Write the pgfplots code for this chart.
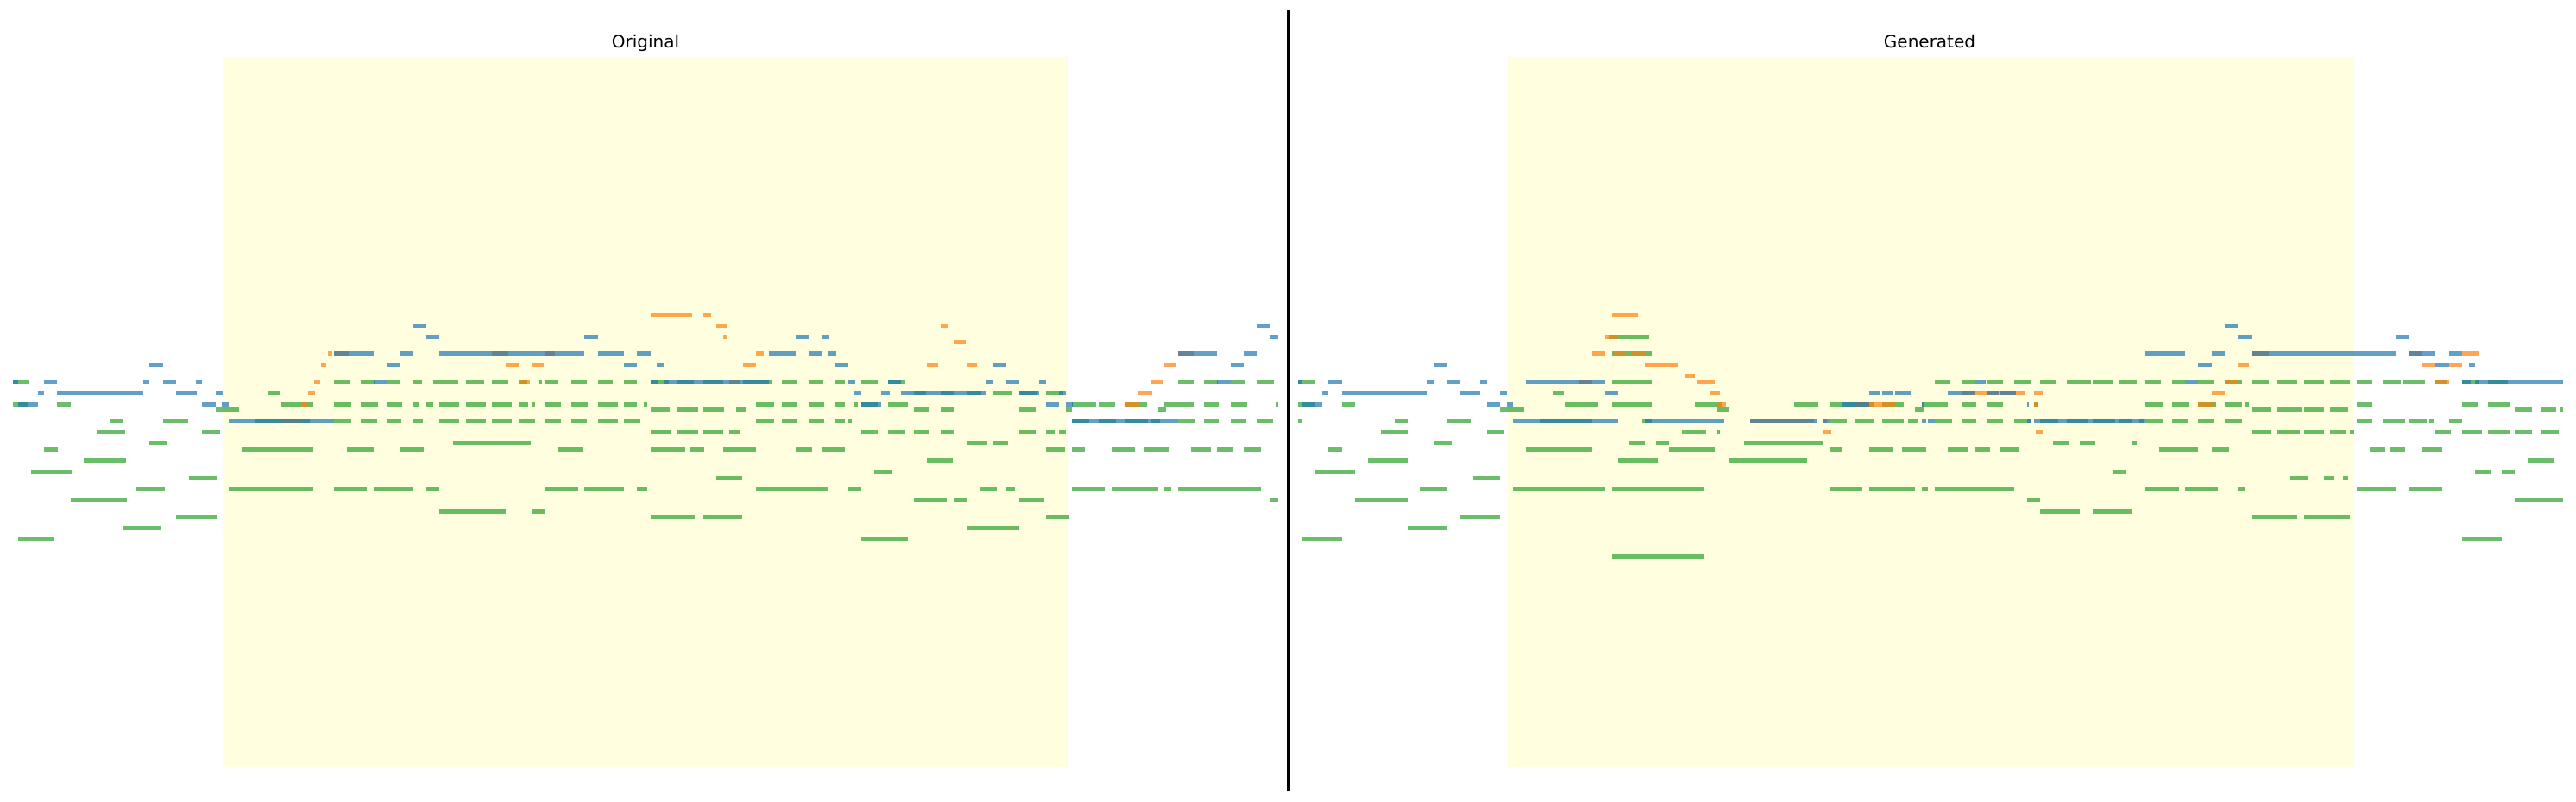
\documentclass[border=0pt]{standalone}
\usepackage{fontspec}
\setmainfont{DejaVu Sans}
\usepackage{pgfplots}
\pgfplotsset{compat=1.18}
\usepackage{pgfplotstable}
\definecolor{tblue}{HTML}{1F77B4}
\definecolor{torange}{HTML}{FF7F0E}
\definecolor{tgreen}{HTML}{2CA02C}
\definecolor{lyellow}{HTML}{FFFFE0}

% columns: s = start, e = end (time, px units), p = pitch
\pgfplotstableread[row sep=\\]{s e p\\
15 34 69\\ 387 405 69\\ 418 435 69\\ 448 463 69\\ 479 489 69\\ 502 531 69\\ 540 561 69\\ 570 589 69\\ 601 611 69\\ 624 628 69\\ 632 647 69\\ 662 680 69\\ 693 710 69\\ 723 738 69\\ 754 775 69\\ 784 804 69\\ 815 838 69\\ 861 894 69\\ 906 924 69\\ 937 954 69\\ 968 979 69\\ 998 1017 69\\ 1029 1049 69\\ 1365 1383 69\\ 1395 1411 69\\ 1426 1443 69\\ 1456 1476 69\\
311 324 67\\ 1059 1073 67\\ 1090 1106 67\\ 1120 1137 67\\ 1151 1173 67\\ 1181 1202 67\\ 1212 1232 67\\
15 33 65\\ 66 82 65\\ 326 363 65\\ 387 407 65\\ 418 438 65\\ 448 466 65\\ 479 486 65\\ 494 502 65\\ 509 532 65\\ 540 563 65\\ 570 593 65\\ 601 612 65\\ 616 620 65\\ 632 650 65\\ 662 681 65\\ 693 716 65\\ 723 738 65\\ 746 750 65\\ 876 897 65\\ 906 924 65\\ 937 955 65\\ 968 979 65\\ 990 994 65\\ 998 1017 65\\ 1029 1052 65\\ 1242 1270 65\\ 1273 1292 65\\ 1304 1329 65\\ 1349 1383 65\\ 1395 1413 65\\ 1426 1445 65\\ 1479 1481 65\\
250 277 64\\ 754 776 64\\ 784 809 64\\ 815 839 64\\ 853 864 64\\ 1059 1076 64\\ 1090 1106 64\\ 1181 1200 64\\ 1235 1242 64\\ 1342 1351 64\\
128 143 62\\ 189 218 62\\ 296 359 62\\ 387 407 62\\ 418 437 62\\ 448 465 62\\ 479 490 62\\ 509 532 62\\ 540 563 62\\ 570 593 62\\ 601 620 62\\ 632 650 62\\ 662 680 62\\ 693 716 62\\ 723 742 62\\ 876 897 62\\ 906 924 62\\ 937 955 62\\ 968 979 62\\ 983 987 62\\ 1242 1262 62\\ 1273 1293 62\\ 1304 1330 62\\ 1334 1344 62\\ 1365 1385 62\\ 1395 1413 62\\ 1426 1444 62\\ 1456 1475 62\\
112 145 60\\ 234 255 60\\ 754 778 60\\ 784 809 60\\ 815 838 60\\ 845 857 60\\ 998 1017 60\\ 1029 1049 60\\ 1059 1077 60\\ 1090 1106 60\\ 1181 1201 60\\ 1212 1223 60\\ 1227 1235 60\\
173 193 58\\ 525 615 58\\ 1120 1144 58\\ 1151 1168 58\\
51 67 57\\ 280 363 57\\ 402 433 57\\ 464 491 57\\ 647 676 57\\ 754 794 57\\ 800 816 57\\ 838 876 57\\ 922 941 57\\ 952 979 57\\ 1212 1234 57\\ 1242 1257 57\\ 1288 1315 57\\ 1326 1355 57\\ 1380 1403 57\\ 1410 1429 57\\ 1441 1461 57\\
97 146 55\\ 1074 1104 55\\
36 83 53\\ 1013 1034 53\\
219 252 52\\ 830 860 52\\
158 191 50\\ 265 363 50\\ 387 425 50\\ 433 479 50\\ 494 509 50\\ 632 670 50\\ 677 723 50\\ 738 750 50\\ 876 960 50\\ 983 998 50\\ 1136 1155 50\\ 1166 1176 50\\ 1242 1281 50\\ 1288 1342 50\\ 1349 1357 50\\ 1365 1461 50\\
82 147 48\\ 1059 1097 48\\ 1105 1120 48\\ 1181 1210 48\\ 1472 1481 48\\
509 586 46\\ 616 632 46\\
204 251 45\\ 754 805 45\\ 815 860 45\\ 1212 1239 45\\
143 187 43\\ 1120 1181 43\\
21 63 41\\ 998 1052 41\\
}\origGreen

\pgfplotstableread[row sep=\\]{s e p\\
754 802 81\\ 815 824 81\\
830 842 79\\ 1090 1099 79\\
838 843 77\\
1105 1119 76\\
380 385 74\\ 387 404 74\\ 570 589 74\\ 632 643 74\\ 876 885 74\\ 1365 1384 74\\
372 378 72\\ 586 601 72\\ 616 630 72\\ 861 876 72\\ 1074 1087 72\\ 1120 1132 72\\ 1349 1363 72\\
364 371 69\\ 601 614 69\\ 845 858 69\\ 1334 1348 69\\
357 365 67\\ 1319 1335 67\\
349 356 65\\ 1304 1320 65\\
326 349 62\\
}\origOrange

\pgfplotstableread[row sep=\\]{s e p\\
479 494 79\\ 1456 1472 79\\
494 509 77\\ 677 693 77\\ 922 937 77\\ 952 961 77\\ 1472 1481 77\\
387 433 74\\ 464 479 74\\ 509 631 74\\ 632 677 74\\ 693 723 74\\ 738 754 74\\ 891 922 74\\ 937 952 74\\ 960 969 74\\ 1365 1410 74\\ 1441 1456 74\\
173 189 72\\ 448 464 72\\ 723 738 72\\ 761 769 72\\ 968 983 72\\ 1151 1166 72\\ 1426 1441 72\\
15 21 69\\ 51 66 69\\ 166 173 69\\ 189 204 69\\ 227 234 69\\ 433 448 69\\ 754 763 69\\ 769 891 69\\ 983 991 69\\ 1029 1044 69\\ 1143 1151 69\\ 1166 1181 69\\ 1204 1212 69\\ 1410 1426 69\\
44 51 67\\ 66 166 67\\ 204 228 67\\ 250 258 67\\ 990 998 67\\ 1021 1031 67\\ 1044 1143 67\\ 1181 1204 67\\ 1227 1235 67\\
21 44 65\\ 234 250 65\\ 257 265 65\\ 998 1021 65\\ 1212 1227 65\\ 1235 1243 65\\
265 387 62\\ 1242 1365 62\\
}\origBlue

\pgfplotstableread[row sep=\\]{s e p\\
1865 1911 77\\
1868 1914 74\\
1504 1524 69\\ 1868 1914 69\\ 2242 2260 69\\ 2273 2288 69\\ 2303 2321 69\\ 2334 2354 69\\ 2364 2382 69\\ 2395 2423 69\\ 2425 2448 69\\ 2456 2476 69\\ 2486 2504 69\\ 2517 2532 69\\ 2547 2565 69\\ 2578 2598 69\\ 2609 2629 69\\ 2639 2662 69\\ 2670 2693 69\\ 2700 2723 69\\ 2731 2749 69\\ 2761 2782 69\\ 2784 2810 69\\ 2822 2835 69\\ 2853 2873 69\\ 2883 2906 69\\
1799 1812 67\\
1504 1524 65\\ 1555 1570 65\\ 1814 1852 65\\ 1868 1914 65\\ 1964 1995 65\\ 2079 2107 65\\ 2120 2171 65\\ 2181 2206 65\\ 2227 2257 65\\ 2273 2290 65\\ 2303 2321 65\\ 2357 2362 65\\ 2486 2507 65\\ 2517 2537 65\\ 2547 2568 65\\ 2578 2598 65\\ 2601 2606 65\\ 2731 2749 65\\ 2853 2871 65\\ 2883 2909 65\\
1738 1766 64\\ 1990 2003 64\\ 2219 2229 64\\ 2609 2631 64\\ 2639 2667 64\\ 2670 2693 64\\ 2700 2721 64\\ 2914 2934 64\\ 2945 2962 64\\ 2967 2970 64\\
1504 1509 62\\ 1616 1631 62\\ 1677 1705 62\\ 1784 1845 62\\ 1903 1914 62\\ 2120 2140 62\\ 2150 2171 62\\ 2181 2206 62\\ 2211 2222 62\\ 2242 2262 62\\ 2273 2290 62\\ 2303 2321 62\\ 2334 2354 62\\ 2364 2385 62\\ 2395 2420 62\\ 2425 2451 62\\ 2456 2471 62\\ 2479 2484 62\\ 2486 2507 62\\ 2517 2535 62\\ 2547 2565 62\\ 2578 2598 62\\ 2731 2749 62\\ 2761 2787 62\\ 2792 2812 62\\ 2815 2820 62\\ 2838 2853 62\\
1600 1631 60\\ 1723 1743 60\\ 1949 1977 60\\ 1990 1993 60\\ 2609 2631 60\\ 2639 2665 60\\ 2670 2693 60\\ 2700 2718 60\\ 2723 2728 60\\ 2822 2840 60\\ 2853 2876 60\\ 2883 2909 60\\ 2914 2934 60\\ 2945 2965 60\\
1662 1682 58\\ 1888 1906 58\\ 1919 1934 58\\ 2021 2112 58\\ 2379 2397 58\\ 2410 2428 58\\ 2471 2476 58\\
1539 1555 57\\ 1768 1845 57\\ 1934 1987 57\\ 2120 2135 57\\ 2166 2194 57\\ 2204 2232 57\\ 2257 2280 57\\ 2288 2306 57\\ 2318 2339 57\\ 2502 2547 57\\ 2563 2583 57\\ 2746 2764 57\\ 2769 2787 57\\ 2807 2830 57\\
1585 1631 55\\ 1875 1921 55\\ 2003 2094 55\\ 2929 2960 55\\
1524 1570 53\\ 2448 2463 53\\ 2868 2886 53\\ 2899 2914 53\\
1707 1738 52\\ 2654 2675 52\\ 2693 2705 52\\ 2715 2721 52\\
1646 1677 50\\ 1753 1860 50\\ 1868 1975 50\\ 2120 2158 50\\ 2166 2219 50\\ 2227 2234 50\\ 2242 2334 50\\ 2486 2525 50\\ 2532 2570 50\\ 2593 2601 50\\ 2731 2777 50\\ 2792 2830 50\\
1570 1631 48\\ 2349 2364 48\\ 2914 2970 48\\
2364 2410 46\\ 2425 2471 46\\
1692 1738 45\\ 2609 2662 45\\ 2670 2723 45\\
1631 1677 43\\
1509 1555 41\\ 2853 2899 41\\
1868 1975 38\\
}\genGreen

\pgfplotstableread[row sep=\\]{s e p\\
1868 1898 81\\
1860 1875 77\\
1845 1860 74\\ 1870 1883 74\\ 1891 1906 74\\ 2609 2629 74\\ 2792 2807 74\\ 2853 2873 74\\
1906 1944 72\\ 2593 2606 72\\ 2807 2822 72\\ 2838 2853 72\\
1952 1964 70\\
1830 1845 69\\ 1967 1987 69\\ 2578 2593 69\\ 2822 2838 69\\
1982 1993 67\\ 2273 2346 67\\ 2357 2367 67\\ 2563 2578 67\\
1990 2000 65\\ 2150 2196 65\\ 2357 2362 65\\ 2547 2565 65\\
2028 2102 62\\ 2112 2117 62\\
2112 2122 60\\ 2359 2367 60\\
}\genOrange

\pgfplotstableread[row sep=\\]{s e p\\
2578 2593 79\\
2593 2609 77\\ 2777 2792 77\\
2486 2532 74\\ 2563 2578 74\\ 2609 2777 74\\ 2792 2822 74\\ 2838 2853 74\\
1662 1677 72\\ 2547 2563 72\\ 2822 2838 72\\ 2861 2868 72\\
1504 1509 69\\ 1539 1555 69\\ 1654 1662 69\\ 1677 1692 69\\ 1715 1723 69\\ 1768 1860 69\\ 2288 2301 69\\ 2532 2547 69\\ 2853 2863 69\\ 2868 2970 69\\
1532 1539 67\\ 1555 1654 67\\ 1692 1715 67\\ 1738 1746 67\\ 1860 1875 67\\ 2166 2178 67\\ 2181 2194 67\\ 2196 2214 67\\ 2257 2288 67\\ 2303 2316 67\\ 2318 2336 67\\
1509 1532 65\\ 1723 1738 65\\ 1746 1753 65\\ 2135 2166 65\\ 2227 2230 65\\ 2349 2351 65\\
1753 1875 62\\ 1906 1998 62\\ 2028 2105 62\\ 2112 2120 62\\ 2227 2232 62\\ 2234 2242 62\\ 2349 2354 62\\ 2357 2486 62\\
}\genBlue

\pgfplotsset{
  notes/.style={only marks, mark=*, mark size=0pt, mark options={draw opacity=0, fill opacity=0}, forget plot,
    error bars/x dir=plus, error bars/x explicit, error bars/error mark=none,
    error bars/error bar style={line width=2.5pt, draw=#1, draw opacity=0.7, line cap=butt}},
  roll/.style={scale only axis, width=733pt, height=411.5pt, hide axis,
    ymin=0.4, ymax=126.8, anchor=south west},
}

\begin{document}
\begin{tikzpicture}
\useasboundingbox (0,0) rectangle (1492.5pt,464.5pt);

\begin{axis}[roll, at={(7.5pt,20pt)}, xmin=15, xmax=1481]
  \fill[lyellow] (258,0.4) rectangle (1238,126.8);
  \addplot[notes=tgreen] table[x=s, y=p, x error expr={\thisrow{e}-\thisrow{s}}] {\origGreen};
  \addplot[notes=torange] table[x=s, y=p, x error expr={\thisrow{e}-\thisrow{s}}] {\origOrange};
  \addplot[notes=tblue] table[x=s, y=p, x error expr={\thisrow{e}-\thisrow{s}}] {\origBlue};
\end{axis}

\begin{axis}[roll, at={(752pt,20pt)}, xmin=1504, xmax=2970]
  \fill[lyellow] (1747,0.4) rectangle (2727,126.8);
  \addplot[notes=tgreen] table[x=s, y=p, x error expr={\thisrow{e}-\thisrow{s}}] {\genGreen};
  \addplot[notes=torange] table[x=s, y=p, x error expr={\thisrow{e}-\thisrow{s}}] {\genOrange};
  \addplot[notes=tblue] table[x=s, y=p, x error expr={\thisrow{e}-\thisrow{s}}] {\genBlue};
\end{axis}

\node[anchor=base, font=\fontsize{10}{12}\selectfont] at (374pt,436.5pt) {Original};
\node[anchor=base, font=\fontsize{10}{12}\selectfont] at (1118pt,436.5pt) {Generated};
\draw[line width=2pt] (746.5pt,6.5pt) -- (746.5pt,458.5pt);
\end{tikzpicture}
\end{document}
